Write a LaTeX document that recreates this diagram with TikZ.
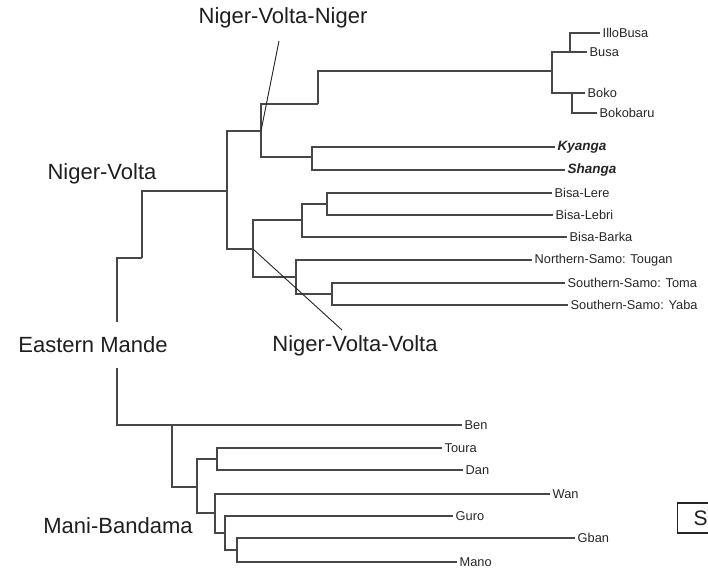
\documentclass[tikz,border=0pt]{standalone}
\usepackage{fontspec}
\setmainfont{Liberation Sans}
\usetikzlibrary{positioning}

\tikzset{
  branch/.style={draw=black!72, line width=1.25pt},
  leader/.style={draw=black!85, line width=0.9pt},
  leaf/.style={anchor=west, inner xsep=2.5pt, inner ysep=0pt, text=black!85,
    font=\fontsize{12.8}{14}\selectfont},
  keyleaf/.style={leaf, font=\fontsize{13.5}{15}\selectfont\bfseries\itshape},
  clade/.style={text=black!88, fill=white, inner sep=2pt,
    font=\fontsize{22}{24}\selectfont},
  sbox/.style={draw=black!85, line width=1.2pt, anchor=west, minimum height=30pt,
    inner xsep=16pt, text=black!88, font=\fontsize{21}{23}\selectfont},
}

\begin{document}
\begin{tikzpicture}[x=1pt,y=-1pt]
\useasboundingbox (0,0) rectangle (708,570);

% inner nodes of the tree
\coordinate (em) at (117,340);
\coordinate (nvstem) at (142,258);
\coordinate (nv) at (227,191);
\coordinate (nvn) at (261,131);
\coordinate (bkstem) at (318,104);
\coordinate (bb) at (552,71);
\coordinate (busa) at (570,52);
\coordinate (boko) at (572,93);
\coordinate (ks) at (312,157);
\coordinate (nvv) at (253,249);
\coordinate (bisa) at (302,220);
\coordinate (bisab) at (327,204);
\coordinate (samo) at (296,277);
\coordinate (ssamo) at (332,294);
\coordinate (mb) at (172,425);
\coordinate (mbb) at (197,487);
\coordinate (td) at (217,459);
\coordinate (wg) at (215,513);
\coordinate (ggm) at (225,533);
\coordinate (gm) at (237,550);

% leaves
\node[leaf] (illobusa) at (600,33) {IlloBusa};
\node[leaf] (busal) at (587,52) {Busa};
\node[leaf] (bokol) at (585,93) {Boko};
\node[leaf] (bokobaru) at (597,113) {Bokobaru};
\node[keyleaf] (kyanga) at (555,147) {Kyanga};
\node[keyleaf] (shanga) at (565,170) {Shanga};
\node[leaf] (lere) at (552,193) {Bisa-Lere};
\node[leaf] (lebri) at (553,215) {Bisa-Lebri};
\node[leaf] (barka) at (567,237) {Bisa-Barka};
\node[leaf] (tougan) at (532,260) {Northern-Samo: Tougan};
\node[leaf] (toma) at (565,283) {Southern-Samo: Toma};
\node[leaf] (yaba) at (568,305) {Southern-Samo: Yaba};
\node[leaf] (ben) at (462,425) {Ben};
\node[leaf] (toura) at (442,448) {Toura};
\node[leaf] (dan) at (463,470) {Dan};
\node[leaf] (wan) at (550,494) {Wan};
\node[leaf] (guro) at (453,516) {Guro};
\node[leaf] (gban) at (575,538) {Gban};
\node[leaf] (mano) at (457,562) {Mano};

% branches
\draw[branch] (em) |- (nvstem);
\draw[branch] (em) |- (mb);
\draw[branch] (nvstem) |- (nv);
\draw[branch] (nv) |- (nvn);
\draw[branch] (nv) |- (nvv);
\draw[branch] (nvn) |- (bkstem);
\draw[branch] (nvn) |- (ks);
\draw[branch] (bkstem) |- (bb);
\draw[branch] (bb) |- (busa);
\draw[branch] (bb) |- (boko);
\draw[branch] (busa) |- (illobusa.west);
\draw[branch] (busa) |- (busal.west);
\draw[branch] (boko) |- (bokol.west);
\draw[branch] (boko) |- (bokobaru.west);
\draw[branch] (ks) |- (kyanga.west);
\draw[branch] (ks) |- (shanga.west);
\draw[branch] (nvv) |- (bisa);
\draw[branch] (nvv) |- (samo);
\draw[branch] (bisa) |- (bisab);
\draw[branch] (bisa) |- (barka.west);
\draw[branch] (bisab) |- (lere.west);
\draw[branch] (bisab) |- (lebri.west);
\draw[branch] (samo) |- (tougan.west);
\draw[branch] (samo) |- (ssamo);
\draw[branch] (ssamo) |- (toma.west);
\draw[branch] (ssamo) |- (yaba.west);
\draw[branch] (mb) |- (ben.west);
\draw[branch] (mb) |- (mbb);
\draw[branch] (mbb) |- (td);
\draw[branch] (mbb) |- (wg);
\draw[branch] (td) |- (toura.west);
\draw[branch] (td) |- (dan.west);
\draw[branch] (wg) |- (wan.west);
\draw[branch] (wg) |- (ggm);
\draw[branch] (ggm) |- (guro.west);
\draw[branch] (ggm) |- (gm);
\draw[branch] (gm) |- (gban.west);
\draw[branch] (gm) |- (mano.west);

% clade names
\coordinate (nvntip) at (279,41);
\coordinate (nvvtip) at (342,330);
\draw[leader] (nvntip) -- (nvn);
\draw[leader] (nvv) -- (nvvtip);
\node[clade] (nvnlab) at (283,18) {Niger-Volta-Niger};
\node[clade] (nvlab) at (102,174) {Niger-Volta};
\node[clade, minimum height=46pt] (emlab) at (93,345) {Eastern Mande};
\node[clade] (nvvlab) at (355,346) {Niger-Volta-Volta};
\node[clade] (mblab) at (118,526) {Mani-Bandama};

\node[sbox] (sx) at (677,518) {S};
\end{tikzpicture}
\end{document}
